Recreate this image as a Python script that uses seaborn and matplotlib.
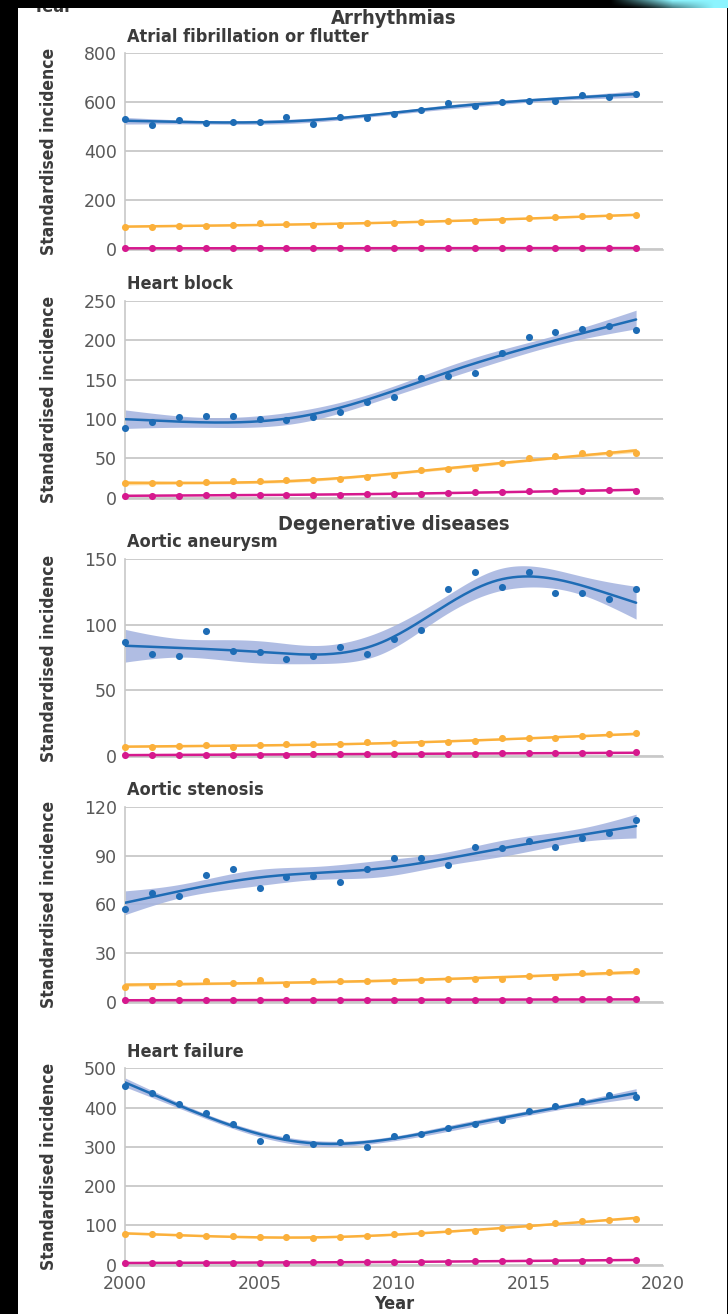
import os
import numpy as np
import pandas as pd
import matplotlib
matplotlib.use("Agg")
import matplotlib.pyplot as plt
import seaborn as sns
from matplotlib import font_manager as fm
from matplotlib.patches import Rectangle

# ---------------------------------------------------------------- data
years = list(range(2000, 2020))
xtick_years = [2000, 2005, 2010, 2015, 2020]

# Atrial fibrillation or flutter
af_a = [529, 508, 525, 514, 518, 520, 539, 509, 539, 536, 552, 566, 595, 585, 601, 606, 606, 630, 622, 632]
af_b = [90, 90, 94, 94, 100, 105, 101, 100, 100, 105, 108, 110, 113, 116, 118, 126, 129, 135, 135, 139]
af_c = [3, 3, 3, 3, 3, 4, 3, 3, 3, 3, 4, 3, 3, 3, 3, 4, 4, 4, 4, 4]

# Heart block
hb_a = [89, 96, 103, 104, 104, 100, 98, 103, 109, 122, 128, 152, 155, 159, 184, 204, 211, 214, 218, 213]
hb_b = [18, 18, 18, 19.7, 20.5, 20.5, 22, 22, 24, 26, 29, 35, 36, 38, 44, 50, 53, 56, 57, 56]
hb_c = [2.3, 2.3, 2.3, 3.2, 3.2, 3.2, 3.2, 3.2, 3.6, 4.0, 4.0, 4.9, 6.2, 6.6, 7.5, 7.9, 8.3, 8.7, 9.2, 8.7]

# Aortic aneurysm
aa_a = [87, 78, 76, 95, 80, 79, 74, 76, 83, 78, 89, 96, 127, 140, 129, 140, 124, 124, 120, 127]
aa_b = [7, 7, 7.6, 8.1, 7, 8.1, 8.8, 9.3, 9, 10.6, 9.8, 9.8, 10.3, 11.1, 13.4, 13.4, 14.1, 14.9, 16.4, 17.2]
aa_c = [1.0, 1.0, 1.0, 1.0, 1.0, 1.0, 1.0, 1.2, 1.2, 1.3, 1.5, 1.6, 1.8, 1.8, 2.0, 2.0, 2.2, 2.4, 2.5, 2.8]

# Aortic stenosis
as_a = [57, 67, 65, 78, 81.5, 70, 77, 77.5, 74, 81.5, 88.5, 88.5, 84, 95, 94.5, 99, 95.5, 100.5, 104, 112]
as_b = [9.3, 9.8, 11.4, 12.6, 11.8, 13.6, 11.2, 12.6, 12.6, 12.6, 13, 13.4, 14.2, 14.2, 14.2, 15.9, 15.3, 17.9, 18.3, 18.9]
as_c = [1.2, 1.2, 1.2, 1.2, 1.2, 1.2, 1.2, 1.2, 1.2, 1.2, 1.3, 1.3, 1.3, 1.3, 1.4, 1.5, 1.6, 2.0, 1.6, 1.6]

# Heart failure
hf_a = [456, 437, 410, 387, 357, 315, 326, 308, 312, 300, 327, 333, 347, 357, 367, 391, 403, 416, 431, 426]
hf_b = [77.5, 77.5, 75.7, 73, 71.5, 69, 70, 66.5, 70, 71.5, 77.5, 80, 85, 85, 92, 98.6, 104.6, 111, 113.8, 116.3]
hf_c = [4, 4, 4, 4, 5, 5, 5, 6, 6, 6, 7, 7, 7, 8, 8, 9, 10, 10, 11, 12]

# ---------------------------------------------------------------- style
sns.set_theme(style="white")
plt.rcParams["font.family"] = ["DejaVu Sans"]


def heading_font():
    """Prefer a narrow bold face for headings and axis titles."""
    names = {f.name for f in fm.fontManager.ttflist}
    if "Liberation Sans Narrow" in names:
        return dict(family="Liberation Sans Narrow", fontweight="bold")
    try:
        path = fm.findfont(fm.FontProperties(family="DejaVu Sans", stretch="condensed", weight="bold"),
                           fallback_to_default=False)
        if "Condensed" in os.path.basename(path):
            return dict(family="DejaVu Sans", fontstretch="condensed", fontweight="bold")
    except Exception:
        pass
    return dict(family="Liberation Sans", fontweight="bold")


HEAD = heading_font()

BLUE, ORANGE, MAGENTA = "#1e6cb5", "#fbb03b", "#d6198e"
BAND = {BLUE: ("#a3b2df", 0.85), ORANGE: ("#fdd690", 0.75), MAGENTA: ("#ec8cc6", 0.6)}
GRID = "#c4c4c4"
TICKC = "#595959"
TEXTC = "#3b3b3b"

W, H = 728, 1314
fig = plt.figure(figsize=(W / 100, H / 100), dpi=100)
fig.patch.set_facecolor("white")

X0, X1 = 125, 663  # pixel columns of 2000 and 2020


# ---------------------------------------------------------------- smoother
def rcs_basis(x, knots):
    """Restricted cubic spline design matrix (linear when fewer than 3 knots)."""
    cols = [np.ones_like(x), x]
    if knots is None or len(knots) < 3:
        return np.column_stack(cols)
    tk, tk1, t1 = knots[-1], knots[-2], knots[0]
    norm = (tk - t1) ** 2
    for tj in knots[:-2]:
        c = (np.clip(x - tj, 0, None) ** 3
             - np.clip(x - tk1, 0, None) ** 3 * (tk - tj) / (tk - tk1)
             + np.clip(x - tk, 0, None) ** 3 * (tk1 - tj) / (tk - tk1)) / norm
        cols.append(c)
    return np.column_stack(cols)


def smooth_fit(x, y, n_knots, grid):
    x = np.asarray(x, float)
    y = np.asarray(y, float)
    knots = np.quantile(x, np.linspace(0.05, 0.95, n_knots)) if n_knots >= 3 else None
    X = rcs_basis(x, knots)
    G = rcs_basis(grid, knots)
    beta, *_ = np.linalg.lstsq(X, y, rcond=None)
    resid = y - X @ beta
    dof = max(len(y) - X.shape[1], 1)
    cov = (resid @ resid / dof) * np.linalg.pinv(X.T @ X)
    fit = G @ beta
    se = np.sqrt(np.einsum("ij,jk,ik->i", G, cov, G))
    return fit, 2.1 * se


def add_panel(top_px, zero_px, pad):
    bottom = 1 - (zero_px + pad) / H
    height = (zero_px + pad - top_px) / H
    return fig.add_axes([X0 / W, bottom, (X1 - X0) / W, height])


def draw_panel(ax, series, ymax, ystep, pad_frac, show_x):
    t = np.array(years, float) - 2000
    grid = np.linspace(t.min(), t.max(), 200)
    for vals, color, n_knots in series:
        fit, ci = smooth_fit(t, vals, n_knots, grid)
        fc, a = BAND[color]
        ax.fill_between(grid + 2000, fit - ci, fit + ci, color=fc, alpha=a, lw=0, zorder=2)
        sns.lineplot(x=grid + 2000, y=fit, ax=ax, color=color, lw=1.8, zorder=3)
        sns.scatterplot(x=years, y=vals, ax=ax, color=color, s=26, linewidth=0,
                        clip_on=False, zorder=4)
    ax.set_xlim(2000, 2020)
    ax.set_ylim(-pad_frac * ymax, ymax)
    ticks = np.arange(0, ymax + 1e-9, ystep)
    ax.set_yticks(ticks)
    ax.set_yticklabels([f"{int(v)}" for v in ticks])
    ax.set_xticks(xtick_years)
    ax.set_xticklabels([str(y) for y in xtick_years] if show_x else [])
    ax.set_xlabel("")
    ax.set_ylabel("Standardised incidence", fontsize=12.5, color=TEXTC, **HEAD)
    ax.yaxis.set_label_coords(-67 / (X1 - X0), 0.5)
    ax.grid(axis="y", color=GRID, lw=1.2)
    ax.grid(axis="x", visible=False)
    for s in ("top", "right"):
        ax.spines[s].set_visible(False)
    for s in ("left", "bottom"):
        ax.spines[s].set_color("#c8c8c8")
        ax.spines[s].set_linewidth(1.2)
    ax.tick_params(axis="y", length=0, labelsize=12.5, labelcolor=TICKC, pad=6)
    ax.tick_params(axis="x", direction="in", length=6, width=1.2, color="#8a8a8a",
                   labelsize=12.5, labelcolor=TICKC, pad=7)
    ax.set_facecolor("white")


panels = [
    # top px, zero px, ymax, step, series (values, colour, spline knots), x labels
    (53, 249, 800, 200, [(af_a, BLUE, 4), (af_b, ORANGE, 3), (af_c, MAGENTA, 0)], False),
    (301, 497.5, 250, 50, [(hb_a, BLUE, 4), (hb_b, ORANGE, 4), (hb_c, MAGENTA, 3)], False),
    (559.3, 756, 150, 50, [(aa_a, BLUE, 5), (aa_b, ORANGE, 3), (aa_c, MAGENTA, 0)], False),
    (806.7, 1002, 120, 30, [(as_a, BLUE, 5), (as_b, ORANGE, 3), (as_c, MAGENTA, 0)], False),
    (1068.3, 1264.5, 500, 100, [(hf_a, BLUE, 4), (hf_b, ORANGE, 4), (hf_c, MAGENTA, 3)], True),
]

for top, zero, ymax, step, series, show_x in panels:
    pad = 1
    ax = add_panel(top, zero, pad)
    draw_panel(ax, series, ymax, step, pad / (zero - top), show_x)
    if show_x:
        ax.set_xlabel("Year", fontsize=13, color=TEXTC, labelpad=1, **HEAD)


def ftext(x, y, s, **kw):
    fig.text(x / W, 1 - y / H, s, **kw)


ftext(394, 18, "Arrhythmias", ha="center", va="center", fontsize=14.5, color=TEXTC, **HEAD)
ftext(127, 37, "Atrial fibrillation or flutter", ha="left", va="center", fontsize=13, color=TEXTC, **HEAD)
ftext(127, 284, "Heart block", ha="left", va="center", fontsize=13, color=TEXTC, **HEAD)
ftext(394, 524, "Degenerative diseases", ha="center", va="center", fontsize=14.5, color=TEXTC, **HEAD)
ftext(127, 542, "Aortic aneurysm", ha="left", va="center", fontsize=13, color=TEXTC, **HEAD)
ftext(127, 790, "Aortic stenosis", ha="left", va="center", fontsize=13, color=TEXTC, **HEAD)
ftext(127, 1052, "Heart failure", ha="left", va="center", fontsize=13, color=TEXTC, **HEAD)
ftext(52, 12, "Year", ha="center", va="baseline", fontsize=13, color=TEXTC, zorder=1, **HEAD)

# dark frame around the white page
fig.patches.append(Rectangle((0, 0), 18 / W, 1, transform=fig.transFigure,
                             facecolor="black", edgecolor="none", zorder=10))
fig.patches.append(Rectangle((0, 1 - 8 / H), 1, 8 / H, transform=fig.transFigure,
                             facecolor="black", edgecolor="none", zorder=10))
fig.patches.append(Rectangle((726.5 / W, 0), 1.5 / W, 1 - 8 / H, transform=fig.transFigure,
                             facecolor="black", edgecolor="none", zorder=10))

# cyan glow in the top-right corner
glow = fig.add_axes([590 / W, 1 - 8 / H, 138 / W, 8 / H], zorder=11)
gx = np.linspace(0, 1, 256)[None, :]
gy = np.linspace(0, 1, 16)[:, None]
ramp = np.clip((gx - 0.15) / 0.45, 0, 1)
strength = ramp * np.clip(1.0 - gy * np.clip(0.9 - gx, 0, 1) * 1.6, 0, 1)
img = np.zeros((16, 256, 3))
img[..., 0] = 0.55 * strength
img[..., 1] = 0.96 * strength
img[..., 2] = 1.0 * strength
glow.imshow(img, aspect="auto", extent=(0, 1, 0, 1), origin="upper")
glow.set_axis_off()

fig.savefig("out.png", dpi=100, facecolor="white")
